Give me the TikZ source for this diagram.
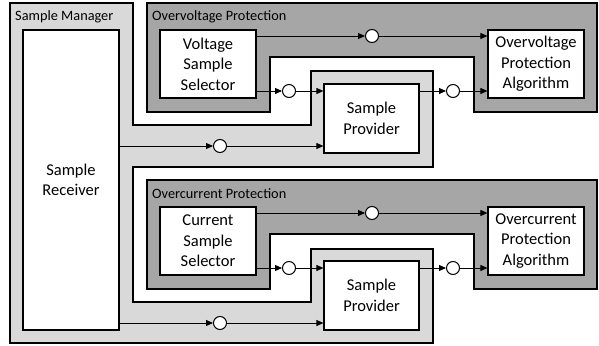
\documentclass[tikz,border=0pt]{standalone}
\usepackage{fontspec}
\setmainfont{Carlito}
\usepackage{tikz}
\usetikzlibrary{arrows.meta,calc}

\begin{document}
\begin{tikzpicture}[x=1pt, y=-1pt, >={Triangle[length=7pt,width=6pt]},
  mgr/.style={draw, line width=1.2pt, fill=black!15},
  prot/.style={draw, line width=1.2pt, fill=black!35},
  blk/.style={draw, line width=1.2pt, fill=white, align=center, inner sep=0pt, minimum width=96pt, font={\fontsize{16.5}{20.5}\selectfont}},
  lbl/.style={anchor=base west, inner sep=0pt, font={\fontsize{14.3}{17}\selectfont}},
  tap/.style={draw, circle, fill=white, line width=1pt, minimum size=13pt, inner sep=0pt},
  wire/.style={->, line width=0.9pt}]
\useasboundingbox (0,0) rectangle (599,345);
% sample manager
\draw[mgr] (10,3) -- (133,3) -- (133,125) -- (311,125) -- (311,71) -- (433,71) -- (433,167) -- (133,167)
  -- (133,302) -- (311,302) -- (311,249) -- (433,249) -- (433,343) -- (10,343) -- cycle;
\node[lbl] (mgrlbl) at (15,21) {Sample Manager};
\node[blk, minimum height=300pt] (recv) at (71,180) {Sample\\Receiver};
% the two protections
\foreach \i/\dy/\kind/\sig in {1/0/Overvoltage/Voltage, 2/177/Overcurrent/Current}{
  \draw[prot] (147,{3+\dy}) -- (597,{3+\dy}) -- (597,{112+\dy}) -- (474,{112+\dy}) -- (474,{57+\dy})
    -- (270,{57+\dy}) -- (270,{112+\dy}) -- (147,{112+\dy}) -- cycle;
  \node[lbl] (plbl\i) at (152,{21+\dy}) {\kind\ Protection};
  \node[blk, minimum height=68pt] (sel\i) at (208,{64+\dy}) {\sig\\Sample\\Selector};
  \node[blk, minimum height=68pt] (alg\i) at (536,{64+\dy}) {\kind\\Protection\\Algorithm};
  \node[blk, minimum width=95pt, minimum height=69pt] (prov\i) at (371.5,{118.5+\dy}) {Sample\\Provider};
  \node[tap] (ta\i) at (372,{36+\dy}) {};
  \node[tap] (tb\i) at (289,{91+\dy}) {};
  \node[tap] (tc\i) at (453,{91+\dy}) {};
  \node[tap] (td\i) at (220,{146+\dy}) {};
  \draw[wire] (sel\i.east |- ta\i) -- (ta\i); \draw[wire] (ta\i) -- (alg\i.west |- ta\i);
  \draw[wire] (sel\i.east |- tb\i) -- (tb\i); \draw[wire] (tb\i) -- (prov\i.west |- tb\i);
  \draw[wire] (prov\i.east |- tc\i) -- (tc\i); \draw[wire] (tc\i) -- (alg\i.west |- tc\i);
  \draw[wire] (recv.east |- td\i) -- (td\i); \draw[wire] (td\i) -- (prov\i.west |- td\i);
}
\end{tikzpicture}
\end{document}
